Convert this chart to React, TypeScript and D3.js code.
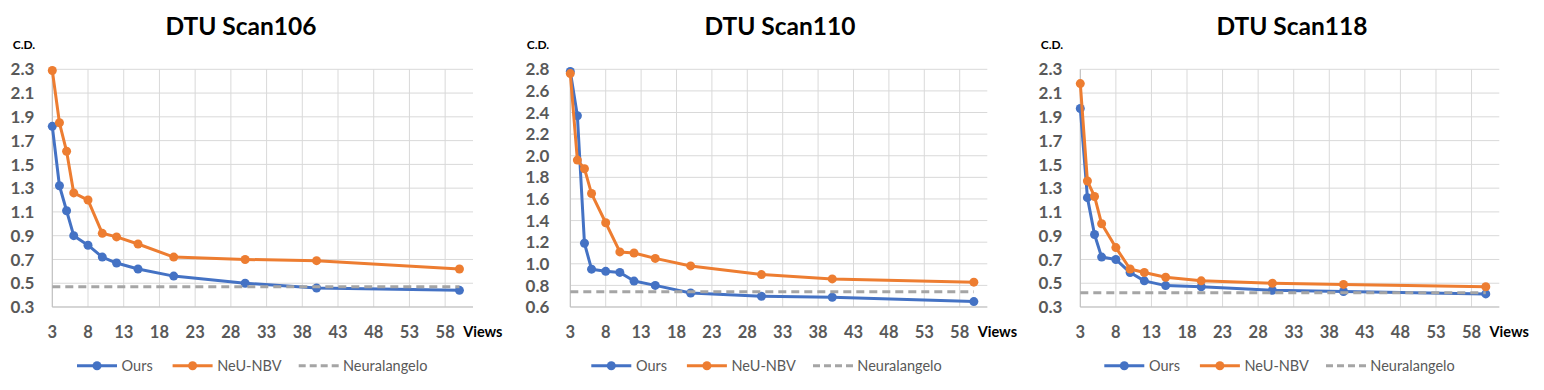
import React from "react";
import * as d3 from "d3";

const views = [3, 4, 5, 6, 8, 10, 12, 15, 20, 30, 40, 60];
const xTicks = [3, 8, 13, 18, 23, 28, 33, 38, 43, 48, 53, 58];

const titles = ["DTU Scan106", "DTU Scan110", "DTU Scan118"];

const ours106 = [1.82, 1.32, 1.11, 0.9, 0.82, 0.72, 0.67, 0.62, 0.56, 0.5, 0.46, 0.44];
const nbv106 = [2.29, 1.85, 1.61, 1.26, 1.2, 0.92, 0.89, 0.83, 0.72, 0.7, 0.69, 0.62];
const neural106 = 0.47;
const yTicks106 = [0.3, 0.5, 0.7, 0.9, 1.1, 1.3, 1.5, 1.7, 1.9, 2.1, 2.3];

const ours110 = [2.78, 2.37, 1.19, 0.95, 0.93, 0.92, 0.84, 0.8, 0.73, 0.7, 0.69, 0.65];
const nbv110 = [2.76, 1.96, 1.88, 1.65, 1.38, 1.11, 1.1, 1.05, 0.98, 0.9, 0.86, 0.83];
const neural110 = 0.74;
const yTicks110 = [0.6, 0.8, 1.0, 1.2, 1.4, 1.6, 1.8, 2.0, 2.2, 2.4, 2.6, 2.8];

const ours118 = [1.97, 1.22, 0.91, 0.72, 0.7, 0.59, 0.52, 0.48, 0.47, 0.44, 0.43, 0.41];
const nbv118 = [2.18, 1.36, 1.23, 1.0, 0.8, 0.62, 0.59, 0.55, 0.52, 0.5, 0.49, 0.47];
const neural118 = 0.42;
const yTicks118 = [0.3, 0.5, 0.7, 0.9, 1.1, 1.3, 1.5, 1.7, 1.9, 2.1, 2.3];

const seriesNames = ["Ours", "NeU-NBV", "Neuralangelo"];

const BLUE = "#4472C4";
const ORANGE = "#ED7D31";
const GRAY = "#A5A5A5";
const GRID = "#D9D9D9";
const TEXT = "#595959";
const FONT = "Lato, 'Open Sans', sans-serif";

const charts = [
  { title: titles[0], ours: ours106, nbv: nbv106, neural: neural106, yTicks: yTicks106, left: 52.3, right: 473, titleX: 241, yLabOff: 18, cdOff: 39.6, legendX: 77 },
  { title: titles[1], ours: ours110, nbv: nbv110, neural: neural110, yTicks: yTicks110, left: 570.3, right: 987.3, titleX: 780, yLabOff: 21, cdOff: 43.6, legendX: 591.3 },
  { title: titles[2], ours: ours118, nbv: nbv118, neural: neural118, yTicks: yTicks118, left: 1080.3, right: 1499.3, titleX: 1292, yLabOff: 18, cdOff: 39.6, legendX: 1104.3 },
];

const TOP = 69.3;
const BOTTOM = 307;

function Chart({ c }: { c: typeof charts[number] }) {
  const x = d3.scaleLinear().domain([3, 61.9]).range([c.left, c.right]);
  const yMin = c.yTicks[0];
  const yMax = c.yTicks[c.yTicks.length - 1];
  const y = d3.scaleLinear().domain([yMin, yMax]).range([BOTTOM, TOP]);
  const line = d3
    .line<number>()
    .x((_, i) => x(views[i]))
    .y((d) => y(d));
  const fmt = d3.format(".1f");
  const ly = 365.7;
  return (
    <g>
      <text x={c.titleX} y={34.5} textAnchor="middle" fontFamily={FONT} fontWeight="bold" fontSize={24.5} fill="#000">
        {c.title}
      </text>
      <text x={c.left - c.cdOff} y={49.3} fontFamily={FONT} fontWeight="bold" fontSize={12} fill="#000">
        C.D.
      </text>
      {c.yTicks.map((t) => (
        <g key={"y" + t}>
          <line x1={c.left} x2={c.right} y1={y(t)} y2={y(t)} stroke={GRID} strokeWidth={1} />
          <text x={c.left - c.yLabOff} y={y(t)} dy="0.36em" textAnchor="end" fontFamily={FONT} fontWeight="bold" fontSize={17} fill={TEXT}>
            {fmt(t)}
          </text>
        </g>
      ))}
      {xTicks.map((t) => (
        <g key={"x" + t}>
          <line x1={x(t)} x2={x(t)} y1={TOP} y2={BOTTOM} stroke={GRID} strokeWidth={1} />
          <text x={x(t)} y={337.5} textAnchor="middle" fontFamily={FONT} fontWeight="bold" fontSize={16.5} fill={TEXT}>
            {t}
          </text>
        </g>
      ))}
      <line x1={c.left} x2={c.left} y1={TOP} y2={BOTTOM} stroke="#BFBFBF" strokeWidth={1} />
      <line x1={c.left} x2={c.right} y1={BOTTOM} y2={BOTTOM} stroke="#BFBFBF" strokeWidth={1} />
      <text x={x(58) + 18} y={337} fontFamily={FONT} fontWeight="bold" fontSize={14.5} fill="#000">
        Views
      </text>
      <path d={line(c.ours) || ""} fill="none" stroke={BLUE} strokeWidth={3} strokeLinejoin="round" />
      {c.ours.map((v, i) => (
        <circle key={"o" + i} cx={x(views[i])} cy={y(v)} r={4.5} fill={BLUE} />
      ))}
      <path d={line(c.nbv) || ""} fill="none" stroke={ORANGE} strokeWidth={3} strokeLinejoin="round" />
      {c.nbv.map((v, i) => (
        <circle key={"n" + i} cx={x(views[i])} cy={y(v)} r={4.5} fill={ORANGE} />
      ))}
      <line x1={c.left} x2={x(60)} y1={y(c.neural)} y2={y(c.neural)} stroke={GRAY} strokeWidth={3} strokeDasharray="8,5" />
      {/* legend */}
      <line x1={c.legendX} x2={c.legendX + 40} y1={ly} y2={ly} stroke={BLUE} strokeWidth={3} />
      <circle cx={c.legendX + 20} cy={ly} r={4.5} fill={BLUE} />
      <text x={c.legendX + 44.6} y={ly + 5} fontFamily={FONT} fontSize={14.5} fill={TEXT}>{seriesNames[0]}</text>
      <line x1={c.legendX + 95.6} x2={c.legendX + 135.6} y1={ly} y2={ly} stroke={ORANGE} strokeWidth={3} />
      <circle cx={c.legendX + 115.6} cy={ly} r={4.5} fill={ORANGE} />
      <text x={c.legendX + 140.2} y={ly + 5} fontFamily={FONT} fontSize={14.5} fill={TEXT}>{seriesNames[1]}</text>
      <line x1={c.legendX + 221.7} x2={c.legendX + 262} y1={ly} y2={ly} stroke={GRAY} strokeWidth={3} strokeDasharray="7,4" />
      <text x={c.legendX + 266} y={ly + 5} fontFamily={FONT} fontSize={14.5} fill={TEXT}>{seriesNames[2]}</text>
    </g>
  );
}

export default function App() {
  return (
    <svg width={1544} height={390} style={{ position: "absolute", left: 0, top: 0, background: "#fff" }}>
      <rect width={1544} height={390} fill="#fff" />
      {charts.map((c) => (
        <Chart key={c.title} c={c} />
      ))}
    </svg>
  );
}
